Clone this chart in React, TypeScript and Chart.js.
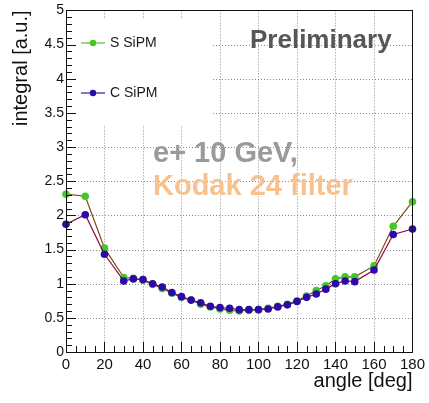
import React, { useEffect, useRef } from "react";
import { Chart, registerables } from "chart.js";

Chart.register(...registerables);

const angles = [0, 10, 20, 30, 35, 40, 45, 50, 55, 60, 65, 70, 75, 80, 85, 90, 95, 100, 105, 110, 115, 120, 125, 130, 135, 140, 145, 150, 160, 170, 180];
const sSipm = [2.31, 2.28, 1.52, 1.09, 1.08, 1.05, 0.99, 0.93, 0.86, 0.8, 0.76, 0.7, 0.66, 0.63, 0.61, 0.6, 0.61, 0.62, 0.64, 0.67, 0.7, 0.75, 0.82, 0.9, 0.97, 1.07, 1.1, 1.1, 1.26, 1.84, 2.2];
const cSipm = [1.87, 2.01, 1.43, 1.04, 1.07, 1.06, 1.0, 0.95, 0.87, 0.81, 0.76, 0.72, 0.67, 0.65, 0.64, 0.62, 0.62, 0.62, 0.63, 0.66, 0.69, 0.74, 0.8, 0.85, 0.92, 1.0, 1.04, 1.03, 1.2, 1.72, 1.8];
const xTickStep = 20;
const yTickStep = 0.5;
const legendLabels = ["S SiPM", "C SiPM"];
const FONT = "'Liberation Sans', Arial, Helvetica, sans-serif";

const frameAndTicks = {
  id: "frameAndTicks",
  beforeDatasetsDraw(chart: any) {
    const { ctx, chartArea, scales } = chart;
    const { left, right, top, bottom } = chartArea;
    ctx.save();
    ctx.strokeStyle = "#8a8a8a";
    ctx.lineWidth = 1;
    ctx.setLineDash([1, 2]);
    for (let v = xTickStep; v < 180; v += xTickStep) {
      const x = Math.round(scales.x.getPixelForValue(v)) + 0.5;
      ctx.beginPath();
      ctx.moveTo(x, top);
      ctx.lineTo(x, bottom);
      ctx.stroke();
    }
    for (let v = yTickStep; v < 5; v += yTickStep) {
      const y = Math.round(scales.y.getPixelForValue(v)) + 0.5;
      ctx.beginPath();
      ctx.moveTo(left, y);
      ctx.lineTo(right, y);
      ctx.stroke();
    }
    ctx.setLineDash([]);
    ctx.fillStyle = "#fff";
    ctx.fillRect(left + 1, top + 9, 212 - left, 106);
    ctx.restore();
  },
  afterDatasetsDraw(chart: any) {
    const { ctx, chartArea, scales } = chart;
    const { left, right, top, bottom } = chartArea;
    ctx.save();
    ctx.strokeStyle = "#111";
    ctx.lineWidth = 1;
    for (let i = 0; i <= 50; i++) {
      const v = i * 0.1;
      const y = Math.round(scales.y.getPixelForValue(v)) + 0.5;
      const len = i % 5 === 0 ? 10 : 6;
      ctx.beginPath();
      ctx.moveTo(left, y);
      ctx.lineTo(left + len, y);
      ctx.stroke();
    }
    for (let i = 0; i <= 36; i++) {
      const v = i * 5;
      const x = Math.round(scales.x.getPixelForValue(v)) + 0.5;
      const len = i % 4 === 0 ? 10 : 6;
      ctx.beginPath();
      ctx.moveTo(x, bottom);
      ctx.lineTo(x, bottom - len);
      ctx.stroke();
    }
    ctx.strokeRect(Math.round(left) + 0.5, Math.round(top) + 0.5, Math.round(right - left), Math.round(bottom - top));
    ctx.restore();
  },
  afterDraw(chart: any) {
    const { ctx } = chart;
    ctx.save();
    const items = [
      { label: legendLabels[0], line: "#44c828", marker: "#44c828", y: 43 },
      { label: legendLabels[1], line: "#2020a0", marker: "#2a0aa8", y: 93 },
    ];
    items.forEach((it) => {
      ctx.strokeStyle = it.line;
      ctx.lineWidth = 1.2;
      ctx.beginPath();
      ctx.moveTo(81, it.y);
      ctx.lineTo(105, it.y);
      ctx.stroke();
      ctx.fillStyle = it.marker;
      ctx.beginPath();
      ctx.arc(93, it.y, 3.2, 0, Math.PI * 2);
      ctx.fill();
      ctx.fillStyle = "#1a1a1a";
      ctx.font = `14px ${FONT}`;
      ctx.textBaseline = "middle";
      ctx.fillText(it.label, 110, it.y + 0.5);
    });
    ctx.textBaseline = "alphabetic";
    ctx.font = `bold 26px ${FONT}`;
    ctx.fillStyle = "#565656";
    ctx.fillText("Preliminary", 250, 48);
    ctx.font = `bold 29px ${FONT}`;
    ctx.fillStyle = "#9a9a9a";
    ctx.fillText("e+ 10 GeV,", 153, 162);
    ctx.fillStyle = "#f8c190";
    ctx.fillText("Kodak 24 filter", 153, 195);
    ctx.restore();
  },
};

export default function App() {
  const ref = useRef<HTMLCanvasElement>(null);
  useEffect(() => {
    if (!ref.current) return;
    const chart = new Chart(ref.current, {
      type: "line",
      data: {
        datasets: [
          {
            label: legendLabels[1],
            data: angles.map((a, i) => ({ x: a, y: cSipm[i] })),
            borderColor: "#8a0a3c",
            borderWidth: 1.2,
            backgroundColor: "#2a0aa8",
            pointBackgroundColor: "#2a0aa8",
            pointBorderColor: "#2a0aa8",
            pointRadius: 3.8,
            pointBorderWidth: 0,
            tension: 0,
            clip: false,
            order: 0,
          },
          {
            label: legendLabels[0],
            data: angles.map((a, i) => ({ x: a, y: sSipm[i] })),
            borderColor: "#7a4a18",
            borderWidth: 1.2,
            backgroundColor: "#44c828",
            pointBackgroundColor: "#44c828",
            pointBorderColor: "#44c828",
            pointRadius: 3.8,
            pointBorderWidth: 0,
            tension: 0,
            clip: false,
            order: 1,
          },
        ],
      },
      options: {
        animation: false,
        responsive: true,
        maintainAspectRatio: false,
        layout: { padding: { top: 8, right: 9, left: 0, bottom: 0 } },
        plugins: { legend: { display: false }, tooltip: { enabled: false } },
        scales: {
          x: {
            type: "linear",
            min: 0,
            max: 180,
            afterFit: (s: any) => { s.height = 51; },
            ticks: { stepSize: xTickStep, color: "#111", font: { family: FONT, size: 15 }, padding: 4, maxRotation: 0, callback: (v: any) => `${+v}` },
            grid: { display: false, drawTicks: false, tickLength: 0 },
            border: { display: false },
            title: { display: true, text: "angle [deg]", align: "end", color: "#111", font: { family: FONT, size: 20 }, padding: { top: 0, bottom: 10 } },
          },
          y: {
            type: "linear",
            min: 0,
            max: 5,
            afterFit: (s: any) => { s.width = 66; },
            ticks: { stepSize: yTickStep, color: "#111", font: { family: FONT, size: 14 }, padding: 2, callback: (v: any) => `${+(+v).toFixed(1)}` },
            grid: { display: false, drawTicks: false, tickLength: 0 },
            border: { display: false },
            title: { display: true, text: "integral [a.u.]", align: "end", color: "#111", font: { family: FONT, size: 20 }, padding: { top: 9, bottom: 0 } },
          },
        },
      },
      plugins: [frameAndTicks],
    } as any);
    return () => chart.destroy();
  }, []);
  return (
    <div style={{ position: "absolute", left: 0, top: 0, width: 429, height: 403, background: "#fff" }}>
      <canvas ref={ref} />
    </div>
  );
}
